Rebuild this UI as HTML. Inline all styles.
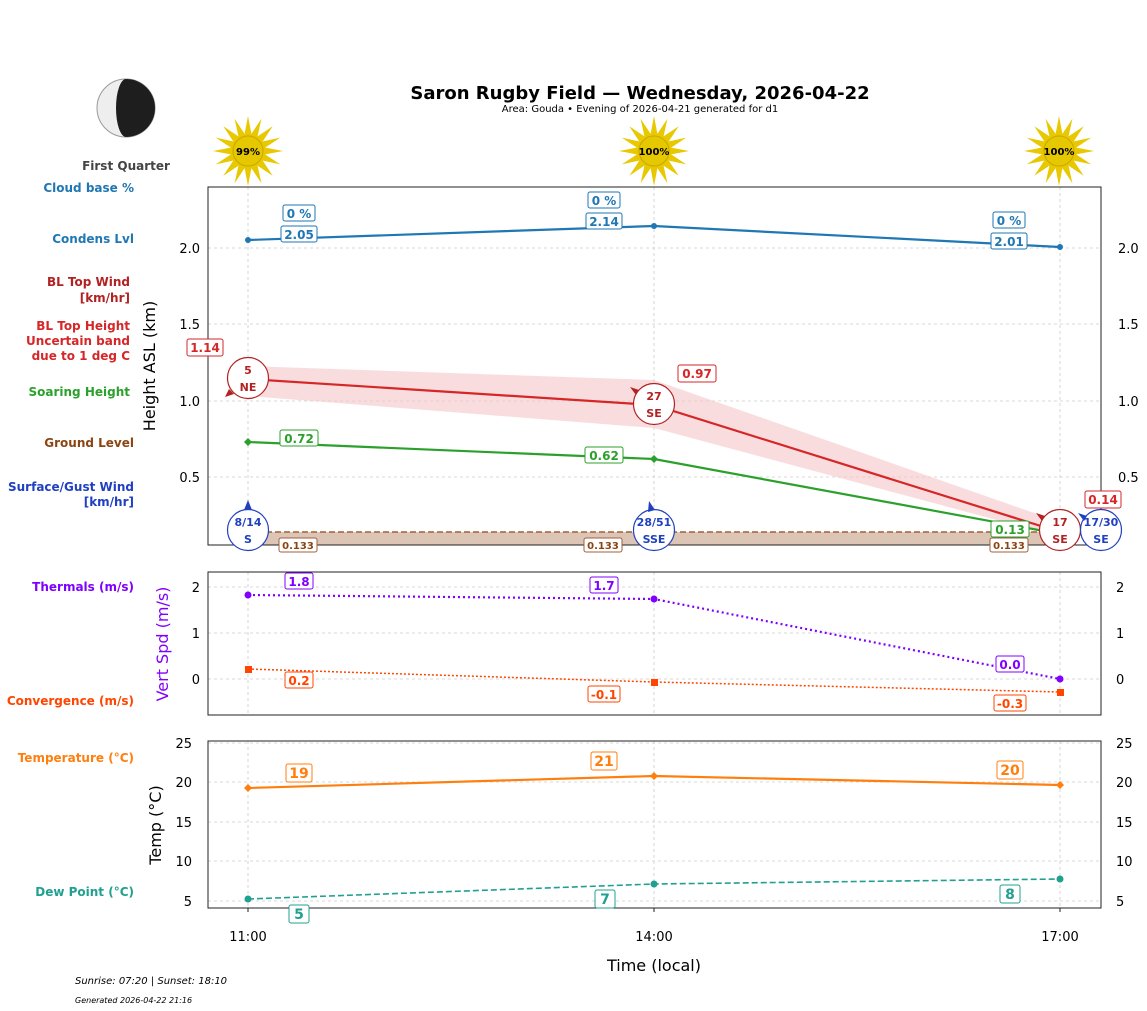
<!DOCTYPE html>
<html><head><meta charset="utf-8"><style>body{margin:0;background:#fff}svg{display:block;font-family:"DejaVu Sans","Liberation Sans",sans-serif}</style></head><body>
<svg width="1147" height="1011" viewBox="0 0 1147 1011" xmlns="http://www.w3.org/2000/svg">
<defs>
<g id="sun"><g fill="#e8c800">
<polygon points="0,-35 4,-14 -4,-14"/><polygon points="0,35 4,14 -4,14"/><polygon points="-35,0 -14,4 -14,-4"/><polygon points="35,0 14,4 14,-4"/>
<polygon points="24.7,-24.7 13,-7 7,-13"/><polygon points="-24.7,24.7 -13,7 -7,13"/><polygon points="-24.7,-24.7 -13,-7 -7,-13"/><polygon points="24.7,24.7 13,7 7,13"/>
<polygon points="13.4,-32.3 9,-12 2,-15"/><polygon points="-13.4,32.3 -9,12 -2,15"/><polygon points="-13.4,-32.3 -9,-12 -2,-15"/><polygon points="13.4,32.3 9,12 2,15"/>
<polygon points="32.3,-13.4 12,-9 15,-2"/><polygon points="-32.3,13.4 -12,9 -15,2"/><polygon points="-32.3,-13.4 -12,-9 -15,-2"/><polygon points="32.3,13.4 12,9 15,2"/>
</g><circle r="15" fill="#e6c800" stroke="#c8a800"/></g>
</defs>
<text x="640" y="99" text-anchor="middle" font-size="18" font-weight="bold">Saron Rugby Field — Wednesday, 2026-04-22</text>
<text x="640" y="112" text-anchor="middle" font-size="10">Area: Gouda • Evening of 2026-04-21 generated for d1</text>
<circle cx="126" cy="108" r="29" fill="#eee" stroke="#999"/>
<path d="M126,79 A29,29 0 0 1 126,137 A10,29 0 0 1 126,79Z" fill="#1e1e1e"/>
<text x="126" y="170" text-anchor="middle" font-size="12" font-weight="bold" fill="#444">First Quarter</text>
<use href="#sun" x="248" y="151"/><text x="248" y="155" text-anchor="middle" font-size="10" font-weight="bold">99%</text>
<use href="#sun" x="654" y="151"/><text x="654" y="155" text-anchor="middle" font-size="10" font-weight="bold">100%</text>
<use href="#sun" x="1059" y="151"/><text x="1059" y="155" text-anchor="middle" font-size="10" font-weight="bold">100%</text>
<g font-size="12" font-weight="bold" text-anchor="end">
<text x="134" y="192" fill="#1f77b4">Cloud base %</text>
<text x="134" y="243" fill="#1f77b4">Condens Lvl</text>
<text x="130" y="286" fill="#b22222">BL Top Wind</text><text x="130" y="302" fill="#b22222">[km/hr]</text>
<text x="130" y="330" fill="#d62728">BL Top Height</text><text x="130" y="345" fill="#d62728">Uncertain band</text><text x="130" y="360" fill="#d62728">due to 1 deg C</text>
<text x="130" y="396" fill="#2ca02c">Soaring Height</text>
<text x="134" y="447" fill="#8b4513">Ground Level</text>
<text x="134" y="491" fill="#2040c0">Surface/Gust Wind</text><text x="134" y="506" fill="#2040c0">[km/hr]</text>
<text x="134" y="591" fill="#8000ff">Thermals (m/s)</text>
<text x="134" y="705" fill="#ff4500">Convergence (m/s)</text>
<text x="134" y="762" fill="#ff7f0e">Temperature (°C)</text>
<text x="134" y="896" fill="#20a090">Dew Point (°C)</text>
</g>
<g stroke="#ccc" stroke-dasharray="3,3" stroke-width="0.8">
<line x1="248" y1="187" x2="248" y2="545"/><line x1="654" y1="187" x2="654" y2="545"/><line x1="1060" y1="187" x2="1060" y2="545"/>
<line x1="208" y1="248" x2="1101" y2="248"/><line x1="208" y1="324" x2="1101" y2="324"/><line x1="208" y1="401" x2="1101" y2="401"/><line x1="208" y1="477" x2="1101" y2="477"/>
<line x1="248" y1="572" x2="248" y2="715"/><line x1="654" y1="572" x2="654" y2="715"/><line x1="1060" y1="572" x2="1060" y2="715"/>
<line x1="208" y1="587" x2="1101" y2="587"/><line x1="208" y1="633" x2="1101" y2="633"/><line x1="208" y1="679" x2="1101" y2="679"/>
<line x1="248" y1="741" x2="248" y2="908"/><line x1="654" y1="741" x2="654" y2="908"/><line x1="1060" y1="741" x2="1060" y2="908"/>
<line x1="208" y1="743" x2="1101" y2="743"/><line x1="208" y1="782" x2="1101" y2="782"/><line x1="208" y1="822" x2="1101" y2="822"/><line x1="208" y1="861" x2="1101" y2="861"/><line x1="208" y1="901" x2="1101" y2="901"/>
</g>
<rect x="248" y="532" width="812" height="13" fill="#dcc5b5"/>
<line x1="248" y1="532" x2="1060" y2="532" stroke="#a0603a" stroke-width="1.5" stroke-dasharray="6,3"/>
<polygon points="248,366 654,380 1060,522 1060,537 654,428 248,396" fill="#f5c6c8" opacity="0.6"/>
<polyline points="248,240 654,226 1060,247" fill="none" stroke="#1f77b4" stroke-width="2.2"/>
<circle cx="248" cy="240" r="3" fill="#1f77b4"/><circle cx="654" cy="226" r="3" fill="#1f77b4"/><circle cx="1060" cy="247" r="3" fill="#1f77b4"/>
<polyline points="248,379 654,405 1060,532" fill="none" stroke="#d62728" stroke-width="2.2"/>
<polyline points="248,442 654,459 1060,534" fill="none" stroke="#2ca02c" stroke-width="2.2"/>
<g fill="#2ca02c"><path d="M248,438 l4,4 -4,4 -4,-4z"/><path d="M654,455 l4,4 -4,4 -4,-4z"/></g>
<rect x="208" y="187" width="893" height="358" fill="none" stroke="#222"/>
<g font-size="13" text-anchor="end"><text x="200" y="253">2.0</text><text x="200" y="329">1.5</text><text x="200" y="406">1.0</text><text x="200" y="482">0.5</text></g>
<g font-size="13"><text x="1118" y="253">2.0</text><text x="1118" y="329">1.5</text><text x="1118" y="406">1.0</text><text x="1118" y="482">0.5</text></g>
<text transform="translate(155,366) rotate(-90)" text-anchor="middle" font-size="16">Height ASL (km)</text>
<g font-size="12" font-weight="bold" text-anchor="middle">
<g fill="#fff" stroke="#1f77b4"><rect x="283" y="205" width="32" height="16" rx="2"/><rect x="281" y="226" width="36" height="16" rx="2"/><rect x="588" y="192" width="32" height="16" rx="2"/><rect x="586" y="213" width="36" height="16" rx="2"/><rect x="993" y="212" width="32" height="16" rx="2"/><rect x="991" y="233" width="36" height="16" rx="2"/></g>
<g fill="#1f77b4"><text x="299" y="218">0 %</text><text x="299" y="239">2.05</text><text x="604" y="205">0 %</text><text x="604" y="226">2.14</text><text x="1009" y="225">0 %</text><text x="1009" y="246">2.01</text></g>
<g fill="#fff" stroke="#d62728"><rect x="187" y="339" width="36" height="17" rx="2"/><rect x="678" y="365" width="38" height="17" rx="2"/><rect x="1085" y="491" width="36" height="17" rx="2"/></g>
<g fill="#d62728"><text x="205" y="352">1.14</text><text x="697" y="378">0.97</text><text x="1103" y="504">0.14</text></g>
<g fill="#fff" stroke="#2ca02c"><rect x="280" y="430" width="38" height="16" rx="2"/><rect x="585" y="447" width="38" height="16" rx="2"/><rect x="991" y="521" width="38" height="16" rx="2"/></g>
<g fill="#2ca02c"><text x="299" y="443">0.72</text><text x="604" y="460">0.62</text><text x="1010" y="534">0.13</text></g>
</g>
<g font-size="10" font-weight="bold" text-anchor="middle" fill="#8b4513">
<g fill="#fff" stroke="#a0603a"><rect x="279" y="538" width="38" height="14" rx="2"/><rect x="584" y="538" width="38" height="14" rx="2"/><rect x="990" y="538" width="38" height="14" rx="2"/></g>
<text x="298" y="549">0.133</text><text x="603" y="549">0.133</text><text x="1009" y="549">0.133</text></g>
<g font-size="11" font-weight="bold" text-anchor="middle" stroke-width="1.2">
<circle cx="248" cy="378" r="20.5" fill="#fff" stroke="#b22222"/><text x="248" y="374" fill="#b22222">5</text><text x="248" y="391" fill="#b22222">NE</text><path d="M225,397 l9,-3 -5,-5z" fill="#b22222"/>
<circle cx="654" cy="404" r="20.5" fill="#fff" stroke="#b22222"/><text x="654" y="400" fill="#b22222">27</text><text x="654" y="417" fill="#b22222">SE</text><path d="M630,387 l9,3 -3,5z" fill="#b22222"/>
<circle cx="1060" cy="530" r="20.5" fill="#fff" stroke="#b22222"/><text x="1060" y="526" fill="#b22222">17</text><text x="1060" y="543" fill="#b22222">SE</text><path d="M1036,513 l9,3 -3,5z" fill="#b22222"/>
<circle cx="248" cy="530" r="20.5" fill="#fff" stroke="#2040c0"/><text x="248" y="526" fill="#2040c0">8/14</text><text x="248" y="543" fill="#2040c0">S</text><path d="M248,500 l4,10 -8,0z" fill="#2040c0"/>
<circle cx="654" cy="530" r="20.5" fill="#fff" stroke="#2040c0"/><text x="654" y="526" fill="#2040c0">28/51</text><text x="654" y="543" fill="#2040c0">SSE</text><path d="M649,501 l6,9 -7,2z" fill="#2040c0"/>
<circle cx="1101" cy="530" r="20.5" fill="#fff" stroke="#2040c0"/><text x="1101" y="526" fill="#2040c0">17/30</text><text x="1101" y="543" fill="#2040c0">SE</text><path d="M1078,513 l9,3 -3,5z" fill="#2040c0"/>
</g>
<polyline points="248,595 654,599 1060,679" fill="none" stroke="#8000ff" stroke-width="2.2" stroke-dasharray="2,3"/>
<circle cx="248" cy="595" r="3.5" fill="#8000ff"/><circle cx="654" cy="599" r="3.5" fill="#8000ff"/><circle cx="1060" cy="679" r="3.5" fill="#8000ff"/>
<polyline points="248,669 654,682 1060,692" fill="none" stroke="#ff4500" stroke-width="1.5" stroke-dasharray="2,2"/>
<g fill="#ff4500"><rect x="245" y="666" width="7" height="7"/><rect x="651" y="679" width="7" height="7"/><rect x="1057" y="689" width="7" height="7"/></g>
<rect x="208" y="572" width="893" height="143" fill="none" stroke="#222"/>
<g font-size="13" text-anchor="end"><text x="200" y="592">2</text><text x="200" y="638">1</text><text x="200" y="684">0</text></g>
<g font-size="13"><text x="1116" y="592">2</text><text x="1116" y="638">1</text><text x="1116" y="684">0</text></g>
<text transform="translate(168,644) rotate(-90)" text-anchor="middle" font-size="16" fill="#8000ff">Vert Spd (m/s)</text>
<g font-size="12" font-weight="bold" text-anchor="middle">
<g fill="#fff" stroke="#8000ff"><rect x="285" y="573" width="28" height="16" rx="2"/><rect x="590" y="577" width="28" height="16" rx="2"/><rect x="996" y="656" width="28" height="16" rx="2"/></g>
<g fill="#8000ff"><text x="299" y="586">1.8</text><text x="604" y="590">1.7</text><text x="1010" y="669">0.0</text></g>
<g fill="#fff" stroke="#ff4500"><rect x="285" y="672" width="28" height="16" rx="2"/><rect x="588" y="686" width="32" height="16" rx="2"/><rect x="994" y="695" width="32" height="16" rx="2"/></g>
<g fill="#ff4500"><text x="299" y="685">0.2</text><text x="604" y="699">-0.1</text><text x="1010" y="708">-0.3</text></g>
</g>
<polyline points="248,788 654,776 1060,785" fill="none" stroke="#ff7f0e" stroke-width="2.2"/>
<g fill="#ff7f0e"><path d="M248,784 l4,4 -4,4 -4,-4z"/><path d="M654,772 l4,4 -4,4 -4,-4z"/><path d="M1060,781 l4,4 -4,4 -4,-4z"/></g>
<polyline points="248,899 654,884 1060,879" fill="none" stroke="#20a090" stroke-width="1.6" stroke-dasharray="6,3"/>
<circle cx="248" cy="899" r="3.5" fill="#20a090"/><circle cx="654" cy="884" r="3.5" fill="#20a090"/><circle cx="1060" cy="879" r="3.5" fill="#20a090"/>
<rect x="208" y="741" width="893" height="167" fill="none" stroke="#222"/>
<g font-size="13" text-anchor="end"><text x="192" y="748">25</text><text x="192" y="787">20</text><text x="192" y="827">15</text><text x="192" y="866">10</text><text x="192" y="906">5</text></g>
<g font-size="13"><text x="1116" y="748">25</text><text x="1116" y="787">20</text><text x="1116" y="827">15</text><text x="1116" y="866">10</text><text x="1116" y="906">5</text></g>
<text transform="translate(161,825) rotate(-90)" text-anchor="middle" font-size="16">Temp (°C)</text>
<g font-size="14" font-weight="bold" text-anchor="middle">
<g fill="#fff" stroke="#ff7f0e"><rect x="286" y="764" width="26" height="18" rx="2"/><rect x="591" y="752" width="26" height="18" rx="2"/><rect x="997" y="761" width="26" height="18" rx="2"/></g>
<g fill="#ff7f0e"><text x="299" y="778">19</text><text x="604" y="766">21</text><text x="1010" y="775">20</text></g>
<g fill="#fff" stroke="#20a090"><rect x="289" y="905" width="20" height="18" rx="2"/><rect x="595" y="890" width="20" height="18" rx="2"/><rect x="1000" y="885" width="20" height="18" rx="2"/></g>
<g fill="#20a090"><text x="299" y="919">5</text><text x="605" y="904">7</text><text x="1010" y="899">8</text></g>
</g>
<g font-size="13" text-anchor="middle"><text x="248" y="941">11:00</text><text x="654" y="941">14:00</text><text x="1060" y="941">17:00</text></g>
<g stroke="#222"><line x1="248" y1="908" x2="248" y2="912"/><line x1="654" y1="908" x2="654" y2="912"/><line x1="1060" y1="908" x2="1060" y2="912"/></g>
<text x="654" y="971" text-anchor="middle" font-size="16">Time (local)</text>
<text x="75" y="984" font-size="10" font-style="italic">Sunrise: 07:20 | Sunset: 18:10</text>
<text x="75" y="1003" font-size="8" font-style="italic">Generated 2026-04-22 21:16</text>
</svg>
</body></html>
